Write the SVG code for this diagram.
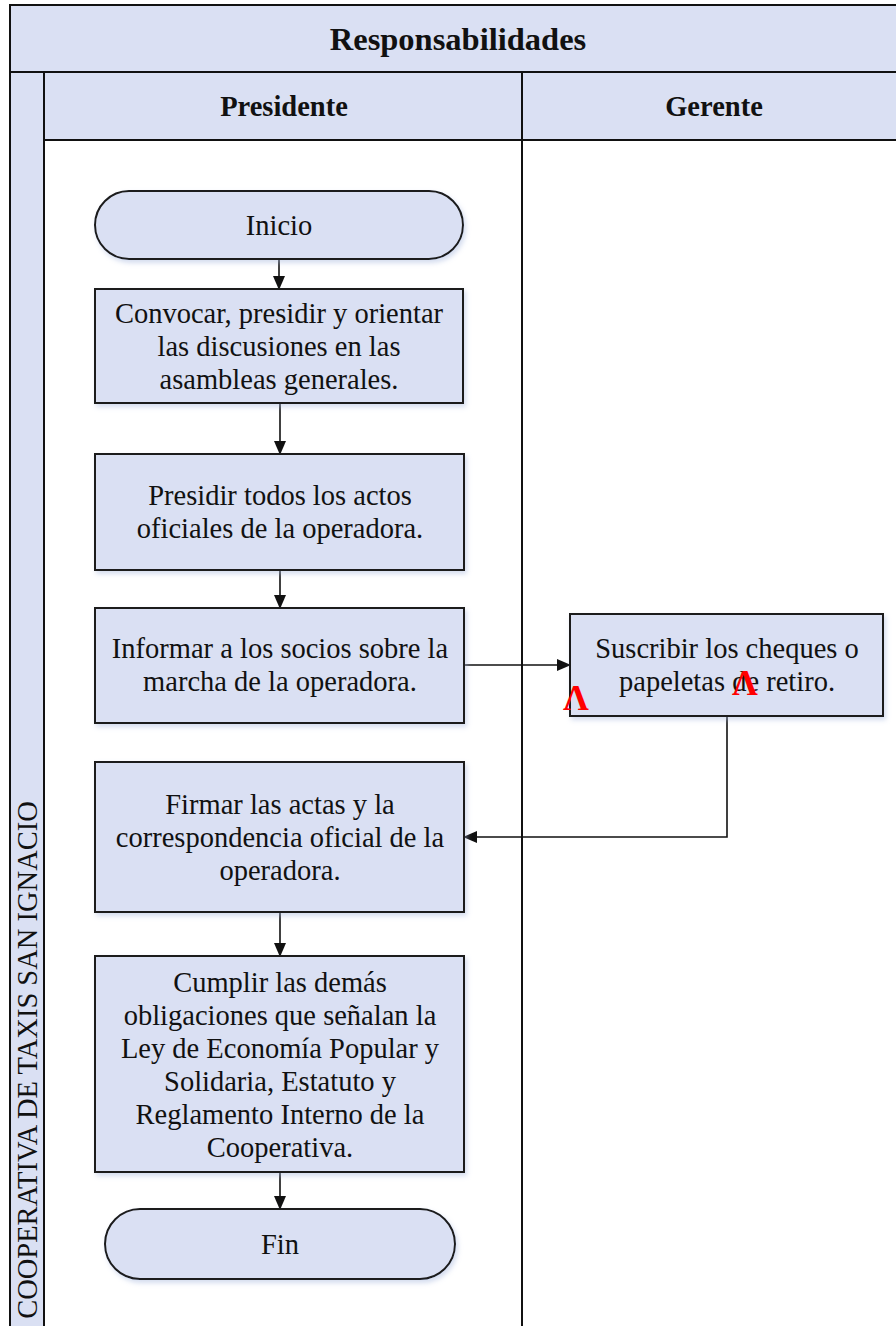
<svg xmlns="http://www.w3.org/2000/svg" width="896" height="1326" viewBox="0 0 896 1326">
  <style>
    .frame { fill: #dae0f3; stroke: #111; stroke-width: 2; }
    .line { fill: none; stroke: #111; stroke-width: 2; }
    .box { fill: #dae0f3; stroke: #1a1a1a; stroke-width: 2; filter: url(#soft); }
    .lbl { font-family: "Liberation Serif", "Times New Roman", serif; font-size: 28.5px; fill: #111; text-anchor: middle; }
    .head { font-family: "Liberation Serif", "Times New Roman", serif; font-weight: bold; fill: #111; text-anchor: middle; }
    .conn { fill: none; stroke: #111; stroke-width: 1.6; }
    .mark { font-family: "Liberation Serif", "Times New Roman", serif; font-weight: bold; font-size: 36px; fill: #ff0000; text-anchor: middle; }
  </style>
  <defs>
    <filter id="soft" x="-10%" y="-10%" width="125%" height="130%">
      <feDropShadow dx="2" dy="3" stdDeviation="2.5" flood-color="#9fb2dc" flood-opacity="0.45"/>
    </filter>
    <marker id="arrow" markerWidth="14" markerHeight="12" refX="13" refY="6" orient="auto" markerUnits="userSpaceOnUse">
      <path d="M0,0 L14,6 L0,12 Z" fill="#111"/>
    </marker>
  </defs>

  <rect width="896" height="1326" fill="#ffffff"/>

  <!-- pool frame: title band, lane headers, side label strip -->
  <g id="pool">
    <rect class="frame" x="10" y="5" width="900" height="67"/>
    <rect class="frame" x="10" y="72" width="34" height="1260"/>
    <rect class="frame" x="44" y="72" width="478" height="68"/>
    <rect class="frame" x="522" y="72" width="388" height="68"/>
    <line class="line" x1="522" y1="140" x2="522" y2="1330"/>
    <text class="head" x="458" y="50" font-size="32.5px">Responsabilidades</text>
    <text class="head" x="284" y="116" font-size="28.5px">Presidente</text>
    <text class="head" x="714" y="116" font-size="28.5px">Gerente</text>
    <text class="lbl" transform="translate(37,1060) rotate(-90)">COOPERATIVA DE TAXIS SAN IGNACIO</text>
  </g>

  <!-- connectors -->
  <g id="connectors">
    <line class="conn" x1="279" y1="259" x2="279" y2="289" marker-end="url(#arrow)"/>
    <line class="conn" x1="280" y1="403" x2="280" y2="454" stroke-width="2.4" marker-end="url(#arrow)"/>
    <line class="conn" x1="280" y1="570" x2="280" y2="608" marker-end="url(#arrow)"/>
    <line class="conn" x1="463" y1="665" x2="570" y2="665" marker-end="url(#arrow)"/>
    <polyline class="conn" points="727,716 727,837 464,837" marker-end="url(#arrow)"/>
    <line class="conn" x1="280" y1="912" x2="280" y2="956" marker-end="url(#arrow)"/>
    <line class="conn" x1="280" y1="1172" x2="280" y2="1209" marker-end="url(#arrow)"/>
  </g>

  <g id="inicio">
    <rect class="box" x="95" y="191" width="368" height="68" rx="34" ry="34"/>
    <text class="lbl" x="279" y="235">Inicio</text>
  </g>

  <g id="convocar">
    <rect class="box" x="95" y="289" width="368" height="114"/>
    <text class="lbl" x="279" y="323">Convocar, presidir y orientar</text>
    <text class="lbl" x="279" y="356">las discusiones en las</text>
    <text class="lbl" x="279" y="389">asambleas generales.</text>
  </g>

  <g id="presidir">
    <rect class="box" x="95" y="454" width="369" height="116"/>
    <text class="lbl" x="280" y="505">Presidir todos los actos</text>
    <text class="lbl" x="280" y="538">oficiales de la operadora.</text>
  </g>

  <g id="informar">
    <rect class="box" x="95" y="608" width="369" height="115"/>
    <text class="lbl" x="280" y="658">Informar a los socios sobre la</text>
    <text class="lbl" x="280" y="691">marcha de la operadora.</text>
  </g>

  <g id="suscribir">
    <rect class="box" x="570" y="614" width="313" height="102"/>
    <text class="lbl" x="727" y="658">Suscribir los cheques o</text>
    <text class="lbl" x="727" y="691">papeletas de retiro.</text>
  </g>

  <g id="firmar">
    <rect class="box" x="95" y="762" width="369" height="150"/>
    <text class="lbl" x="280" y="814">Firmar las actas y la</text>
    <text class="lbl" x="280" y="847">correspondencia oficial de la</text>
    <text class="lbl" x="280" y="880">operadora.</text>
  </g>

  <g id="cumplir">
    <rect class="box" x="95" y="956" width="369" height="216"/>
    <text class="lbl" x="280" y="992">Cumplir las demás</text>
    <text class="lbl" x="280" y="1025">obligaciones que señalan la</text>
    <text class="lbl" x="280" y="1058">Ley de Economía Popular y</text>
    <text class="lbl" x="280" y="1091">Solidaria, Estatuto y</text>
    <text class="lbl" x="280" y="1124">Reglamento Interno de  la</text>
    <text class="lbl" x="280" y="1157">Cooperativa.</text>
  </g>

  <g id="fin">
    <rect class="box" x="105" y="1209" width="350" height="70" rx="35" ry="35"/>
    <text class="lbl" x="280" y="1254">Fin</text>
  </g>

  <!-- red lambda marks -->
  <g id="marks">
    <text class="mark" x="576" y="710">Λ</text>
    <text class="mark" x="745" y="695">Λ</text>
  </g>
</svg>
